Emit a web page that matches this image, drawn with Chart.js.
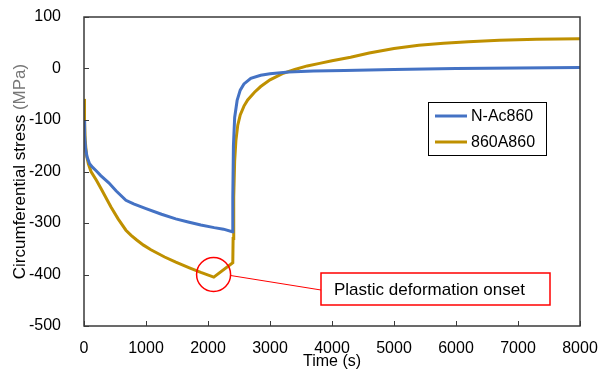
<!DOCTYPE html>
<html>
<head>
<meta charset="utf-8">
<script src="https://cdn.jsdelivr.net/npm/chart.js@4"></script>
<style>
  html, body { margin: 0; padding: 0; background: #fff; }
  #wrap { width: 601px; height: 372px; }
</style>
</head>
<body>
<div id="wrap"><canvas id="stressChart" width="601" height="372"></canvas></div>
<script>
// Series: time (s) and circumferential stress (MPa)
const timeNAc = [0, 10, 25, 50, 90, 140, 200, 270, 400, 520, 676, 800, 1000, 1250, 1480, 1680, 1884, 2100, 2250, 2390,
                 2400, 2410, 2430, 2470, 2520, 2580, 2690, 2850, 3000, 3300, 3700, 4200, 5000, 6000, 7000, 8000];
const stressNAc = [-100, -130, -155, -172, -185, -192, -199, -208, -222, -238, -256, -263, -272, -283, -292, -298, -304, -309, -312, -317,
                   -250, -150, -95, -62, -42, -30, -19, -13, -10, -7, -5, -4, -2, 0, 1, 2];

const time860 = [0, 8, 20, 40, 70, 113, 200, 274, 350, 435, 550, 676, 760, 850, 960, 1079, 1300, 1481, 1700, 1884, 2093, 2400,
                 2405, 2415, 2430, 2450, 2480, 2520, 2580, 2640, 2750, 2850, 3000, 3200, 3400, 3600, 3800, 4000, 4300, 4600,
                 5000, 5400, 5800, 6200, 6700, 7300, 8000];
const stress860 = [-59, -100, -140, -168, -185, -200, -217, -233, -250, -269, -292, -314, -324, -333, -343, -352, -366, -376, -387, -396, -405, -377,
                   -330, -250, -180, -140, -110, -90, -73, -61, -46, -35, -22, -10, -2, 5, 10, 15, 22, 30,
                   39, 45, 49, 52, 55, 57, 58];

const seriesNames = ['N-Ac860', '860A860'];
const seriesColors = ['#4472C4', '#BF9000'];

const xTicks = [0, 1000, 2000, 3000, 4000, 5000, 6000, 7000, 8000];
const yTicks = [100, 0, -100, -200, -300, -400, -500];

// plastic deformation onset marker (data coords)
const onsetPoint = { x: 2090, y: -400 };
const onsetLabel = 'Plastic deformation onset';

function toPoints(xs, ys) {
    return xs.map((x, i) => ({ x: x, y: ys[i] }));
}

// Frame, inward ticks, y title, legend and the annotation
const decorPlugin = {
    id: 'decor',
    afterDraw(chart) {
        const ctx = chart.ctx;
        const area = chart.chartArea;
        const xs = chart.scales.x;
        const ys = chart.scales.y;
        ctx.save();

        // box round the plot
        ctx.strokeStyle = '#3a3a3a';
        ctx.lineWidth = 1.5;
        ctx.strokeRect(area.left, area.top, area.right - area.left, area.bottom - area.top);

        // tick marks pointing inside
        ctx.lineWidth = 1;
        ctx.beginPath();
        yTicks.forEach(v => {
            const py = Math.round(ys.getPixelForValue(v)) + 0.5;
            ctx.moveTo(area.left, py);
            ctx.lineTo(area.left + 5, py);
        });
        xTicks.forEach(v => {
            const px = Math.round(xs.getPixelForValue(v)) + 0.5;
            ctx.moveTo(px, area.bottom);
            ctx.lineTo(px, area.bottom - 5);
        });
        ctx.stroke();

        // y axis title, "(MPa)" is lighter in the original
        ctx.translate(20, (area.top + area.bottom) / 2);
        ctx.rotate(-Math.PI / 2);
        ctx.font = '17px "Liberation Sans", Arial, sans-serif';
        ctx.textBaseline = 'middle';
        const partA = 'Circumferential stress ';
        const partB = '(MPa)';
        const wA = ctx.measureText(partA).width;
        const wB = ctx.measureText(partB).width;
        let tx = -(wA + wB) / 2;
        ctx.fillStyle = '#000';
        ctx.fillText(partA, tx, 0);
        ctx.fillStyle = '#777';
        ctx.fillText(partB, tx + wA, 0);
        ctx.setTransform(1, 0, 0, 1, 0, 0);

        // legend
        ctx.fillStyle = '#fff';
        ctx.fillRect(428, 102, 118, 53);
        ctx.strokeStyle = '#000';
        ctx.lineWidth = 1;
        ctx.strokeRect(428.5, 102.5, 118, 53);
        ctx.font = '16px "Liberation Sans", Arial, sans-serif';
        ctx.textBaseline = 'middle';
        chart.data.datasets.forEach((ds, i) => {
            const ly = 116 + i * 26;
            ctx.strokeStyle = ds.borderColor;
            ctx.lineWidth = 3;
            ctx.beginPath();
            ctx.moveTo(435, ly);
            ctx.lineTo(467, ly);
            ctx.stroke();
            ctx.fillStyle = '#000';
            ctx.fillText(ds.label, 471, ly + 1);
        });

        // onset annotation
        const cx = xs.getPixelForValue(onsetPoint.x);
        const cy = ys.getPixelForValue(onsetPoint.y);
        ctx.strokeStyle = '#FF0000';
        ctx.lineWidth = 1.5;
        ctx.beginPath();
        ctx.arc(cx, cy, 17, 0, Math.PI * 2);
        ctx.stroke();
        ctx.lineWidth = 1;
        ctx.beginPath();
        ctx.moveTo(cx + 17, cy + 1);
        ctx.lineTo(321, 290);
        ctx.stroke();
        ctx.fillStyle = '#fff';
        ctx.fillRect(321, 273, 229, 32);
        ctx.lineWidth = 1.5;
        ctx.strokeRect(321, 273, 229, 32);
        ctx.fillStyle = '#000';
        ctx.font = '17px "Liberation Sans", Arial, sans-serif';
        ctx.fillText(onsetLabel, 334, 290);

        ctx.restore();
    }
};

const ctx = document.getElementById('stressChart').getContext('2d');
new Chart(ctx, {
    type: 'scatter',
    data: {
        datasets: [
            {
                label: seriesNames[0],
                data: toPoints(timeNAc, stressNAc),
                borderColor: seriesColors[0],
                backgroundColor: seriesColors[0],
                showLine: true,
                borderWidth: 3,
                pointRadius: 0,
                tension: 0
            },
            {
                label: seriesNames[1],
                data: toPoints(time860, stress860),
                borderColor: seriesColors[1],
                backgroundColor: seriesColors[1],
                showLine: true,
                borderWidth: 3,
                pointRadius: 0,
                tension: 0
            }
        ]
    },
    options: {
        responsive: false,
        animation: false,
        layout: { padding: { top: 17, right: 21, left: 0, bottom: 0 } },
        plugins: {
            legend: { display: false },
            tooltip: { enabled: false }
        },
        scales: {
            x: {
                type: 'linear',
                min: 0,
                max: 8000,
                // fixed box, no extra room for overhanging labels
                afterFit: s => { s.height = 46; s.paddingLeft = 0; s.paddingRight = 0; },
                afterBuildTicks: s => { s.ticks = xTicks.map(v => ({ value: v })); },
                grid: { display: false },
                border: { display: false },
                ticks: {
                    color: '#000',
                    padding: 5,
                    maxRotation: 0,
                    font: { family: '"Liberation Sans", Arial, sans-serif', size: 16 },
                    callback: v => String(v)
                },
                title: {
                    display: true,
                    text: 'Time (s)',
                    color: '#000',
                    padding: { top: 0, bottom: 1 },
                    font: { family: '"Liberation Sans", Arial, sans-serif', size: 16 }
                }
            },
            y: {
                type: 'linear',
                min: -500,
                max: 100,
                afterFit: s => { s.width = 84; s.paddingTop = 0; s.paddingBottom = 0; },
                afterBuildTicks: s => { s.ticks = yTicks.map(v => ({ value: v })); },
                grid: { display: false },
                border: { display: false },
                ticks: {
                    color: '#000',
                    padding: 15,
                    font: { family: '"Liberation Sans", Arial, sans-serif', size: 16 },
                    callback: v => String(v)
                }
            }
        }
    },
    plugins: [decorPlugin]
});
</script>
</body>
</html>
